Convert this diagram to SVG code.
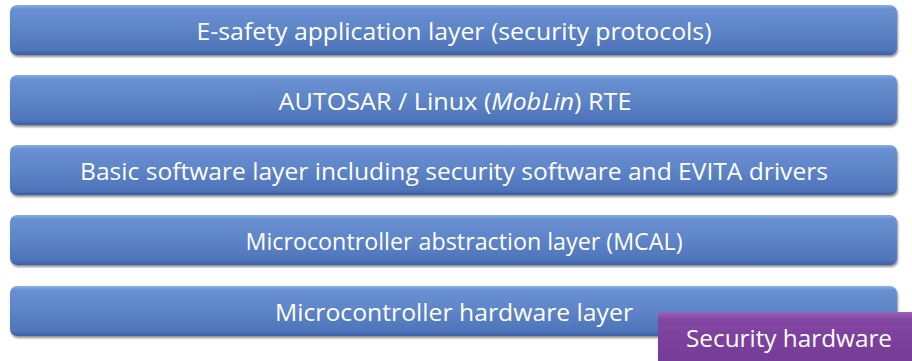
<svg xmlns="http://www.w3.org/2000/svg" width="912" height="361" viewBox="0 0 912 361">
  <defs>
    <linearGradient id="blueFill" x1="0" y1="0" x2="0" y2="1">
      <stop offset="0" stop-color="#86b0e4"/>
      <stop offset="0.08" stop-color="#6990d2"/>
      <stop offset="0.45" stop-color="#5e86c8"/>
      <stop offset="0.9" stop-color="#4f74ba"/>
      <stop offset="1" stop-color="#3b5fa8"/>
    </linearGradient>
    <linearGradient id="purpleFill" x1="0" y1="0" x2="0" y2="1">
      <stop offset="0" stop-color="#9a63b8"/>
      <stop offset="0.12" stop-color="#8246a2"/>
      <stop offset="1" stop-color="#723994"/>
    </linearGradient>
    <filter id="shadow" x="-5%" y="-20%" width="110%" height="150%">
      <feGaussianBlur in="SourceAlpha" stdDeviation="1.2"/>
      <feOffset dx="1" dy="2" result="b"/>
      <feComponentTransfer><feFuncA type="linear" slope="0.45"/></feComponentTransfer>
      <feMerge><feMergeNode/><feMergeNode in="SourceGraphic"/></feMerge>
    </filter>
  </defs>
  <style>
    .bar { fill: url(#blueFill); filter: url(#shadow); }
    .chip { fill: url(#purpleFill); filter: url(#shadow); }
    .label { font-family: "Open Sans", "Liberation Sans", sans-serif; font-size: 24px; fill: #ffffff; text-anchor: middle; }
  </style>

  <g id="layer-esafety">
    <rect class="bar" x="10" y="5" width="887" height="50" rx="7"/>
    <text class="label" x="454" y="40" textLength="515" lengthAdjust="spacingAndGlyphs">E-safety application layer (security protocols)</text>
  </g>

  <g id="layer-rte">
    <rect class="bar" x="10" y="75" width="887" height="50" rx="7"/>
    <text class="label" x="455" y="110" textLength="353" lengthAdjust="spacingAndGlyphs">AUTOSAR / Linux (<tspan font-style="italic">MobLin</tspan>) RTE</text>
  </g>

  <g id="layer-bsw">
    <rect class="bar" x="10" y="145" width="887" height="50" rx="7"/>
    <text class="label" x="454" y="180" textLength="748" lengthAdjust="spacingAndGlyphs">Basic software layer including security software and EVITA drivers</text>
  </g>

  <g id="layer-mcal">
    <rect class="bar" x="10" y="215" width="887" height="50" rx="7"/>
    <text class="label" x="464" y="250" textLength="437" lengthAdjust="spacingAndGlyphs">Microcontroller abstraction layer (MCAL)</text>
  </g>

  <g id="layer-hw">
    <rect class="bar" x="10" y="286" width="887" height="50" rx="7"/>
    <text class="label" x="454" y="321" textLength="358" lengthAdjust="spacingAndGlyphs">Microcontroller hardware layer</text>
  </g>

  <g id="security-hw">
    <rect class="chip" x="658" y="312" width="262" height="60" rx="4"/>
    <text class="label" x="789" y="347" textLength="206" lengthAdjust="spacingAndGlyphs">Security hardware</text>
  </g>
</svg>
